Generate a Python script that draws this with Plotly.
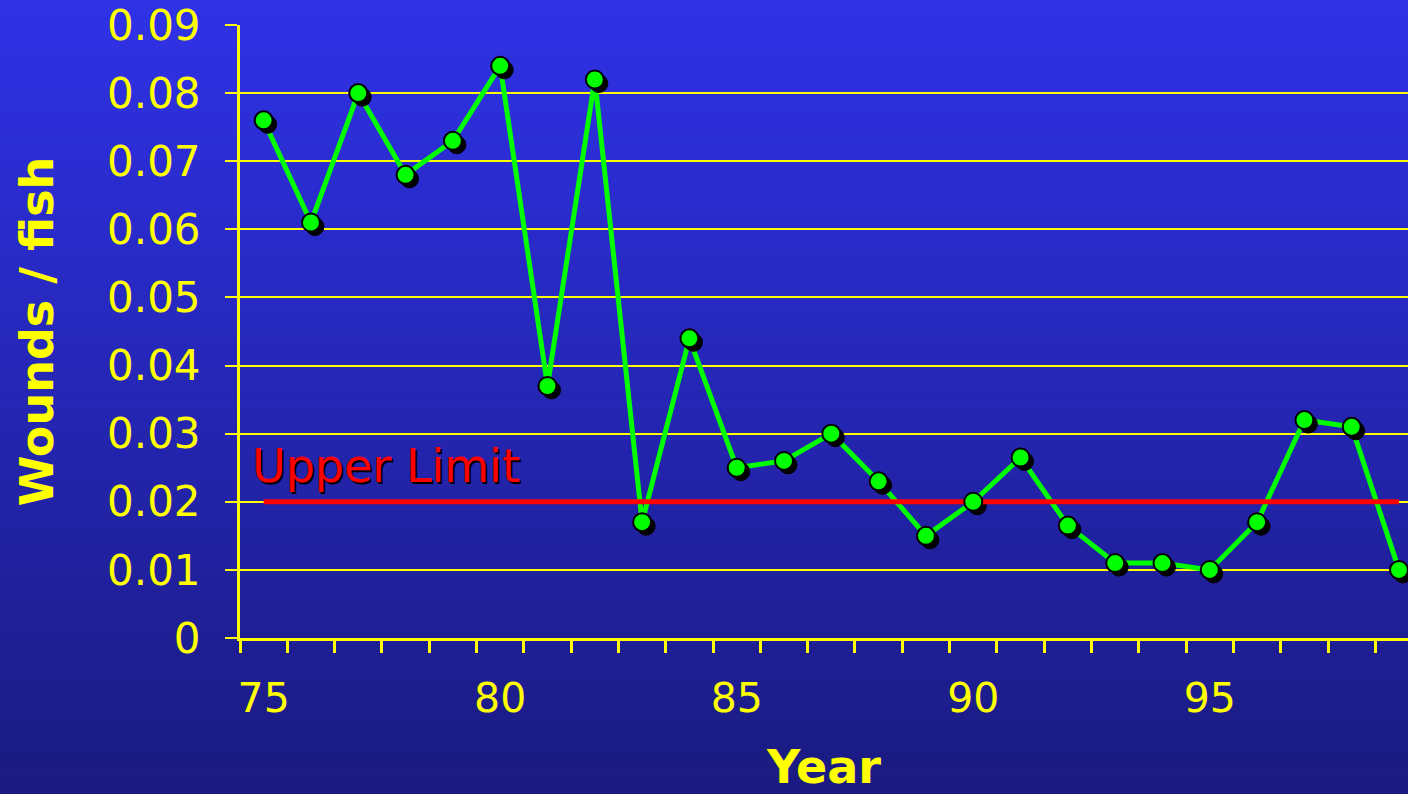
import plotly.graph_objects as go

# ---- data ----
years = list(range(75, 100))
wounds = [0.076, 0.061, 0.080, 0.068, 0.073, 0.084, 0.037, 0.082, 0.017, 0.044,
          0.025, 0.026, 0.030, 0.023, 0.015, 0.020, 0.0265, 0.0165, 0.011, 0.011,
          0.010, 0.017, 0.032, 0.031, 0.010]
upper_limit = 0.02
x_tick_vals = [75, 80, 85, 90, 95]
x_tick_text = ["75", "80", "85", "90", "95"]
y_tick_vals = [0, 0.01, 0.02, 0.03, 0.04, 0.05, 0.06, 0.07, 0.08, 0.09]

# ---- geometry ----
W, H = 1408, 794
ML, MR, MT, MB = 240, 0, 25, 156
x_range = [74.5, 99.19]
y_range = [0, 0.09]
pw, ph = W - ML - MR, H - MT - MB
px_per_x = pw / (x_range[1] - x_range[0])
px_per_y = ph / (y_range[1] - y_range[0])
shadow_dx = 4 / px_per_x
shadow_dy = 4 / px_per_y

YELLOW = "#ffff00"
FONT = "DejaVu Sans"

fig = go.Figure()

# main line
fig.add_trace(go.Scatter(x=years, y=wounds, mode="lines",
                         line=dict(color="#00ff00", width=5),
                         hoverinfo="skip", showlegend=False))
# marker shadows
fig.add_trace(go.Scatter(x=[v + shadow_dx for v in years],
                         y=[v - shadow_dy for v in wounds], mode="markers",
                         marker=dict(color="black", size=18,
                                     line=dict(color="black", width=1)),
                         hoverinfo="skip", showlegend=False))
# upper limit line
fig.add_trace(go.Scatter(x=[years[0], years[-1]], y=[upper_limit, upper_limit],
                         mode="lines", line=dict(color="#ff0000", width=5),
                         hoverinfo="skip", showlegend=False))
# markers
fig.add_trace(go.Scatter(x=years, y=wounds, mode="markers",
                         marker=dict(color="#00ff00", size=18,
                                     line=dict(color="black", width=2)),
                         showlegend=False, name="Wounds / fish"))

# background gradient bands (paper coords cover entire figure)
shapes = []
n = 120
top = (48, 50, 232)
bot = (26, 26, 128)
y_paper_top = (H - MB) / ph + 0.01
y_paper_bot = -MB / ph - 0.01
x0p = -ML / pw - 0.01
x1p = 1 + MR / pw + 0.01
for i in range(n):
    t = i / (n - 1)
    c = tuple(round(top[k] + (bot[k] - top[k]) * t) for k in range(3))
    ya = y_paper_top + (y_paper_bot - y_paper_top) * i / n
    yb = y_paper_top + (y_paper_bot - y_paper_top) * (i + 1) / n
    shapes.append(dict(type="rect", xref="paper", yref="paper",
                       x0=x0p, x1=x1p, y0=yb - 0.002, y1=ya + 0.002,
                       fillcolor="rgb(%d,%d,%d)" % c, line=dict(width=0),
                       layer="below"))

# "Upper Limit" label with shadow
label_x = 74.72
label_y = 0.0252
fig.add_annotation(x=label_x, y=label_y, xref="x", yref="y", text="Upper Limit",
                   showarrow=False, xanchor="left", yanchor="middle",
                   xshift=2, yshift=-2,
                   font=dict(family=FONT, size=46, color="black"))
fig.add_annotation(x=label_x, y=label_y, xref="x", yref="y", text="Upper Limit",
                   showarrow=False, xanchor="left", yanchor="middle",
                   font=dict(family=FONT, size=46, color="#ff0000"))

fig.update_layout(
    width=W, height=H,
    margin=dict(l=ML, r=MR, t=MT, b=MB, pad=0, autoexpand=False),
    paper_bgcolor="rgb(26,26,128)",
    plot_bgcolor="rgba(0,0,0,0)",
    shapes=shapes,
    showlegend=False,
    xaxis=dict(range=x_range, tickvals=x_tick_vals, ticktext=x_tick_text,
               automargin=False,
               ticks="outside", ticklen=12, tickcolor="rgba(0,0,0,0)",
               ticklabelstandoff=10,
               tickfont=dict(family=FONT, size=41, color=YELLOW),
               showgrid=False, zeroline=False,
               showline=True, linecolor=YELLOW, linewidth=3,
               minor=dict(tick0=74.5, dtick=1, ticks="outside", ticklen=12,
                          tickcolor=YELLOW, tickwidth=3, showgrid=False),
               title=dict(text="<b>Year</b>", standoff=46,
                          font=dict(family=FONT, size=46, color=YELLOW))),
    yaxis=dict(range=y_range, tickvals=y_tick_vals,
               automargin=False,
               ticks="outside", ticklen=12, tickcolor=YELLOW, tickwidth=2,
               ticklabelstandoff=16,
               tickfont=dict(family=FONT, size=42, color=YELLOW),
               showgrid=True, gridcolor=YELLOW, gridwidth=2,
               zeroline=False,
               showline=True, linecolor=YELLOW, linewidth=3,
               title=dict(text="<b>Wounds / fish</b>", standoff=39,
                          font=dict(family=FONT, size=46, color=YELLOW))),
)

fig.write_html("out.html", config={"displayModeBar": False},
               post_script="document.body.style.margin='0';document.body.style.overflow='hidden';")
